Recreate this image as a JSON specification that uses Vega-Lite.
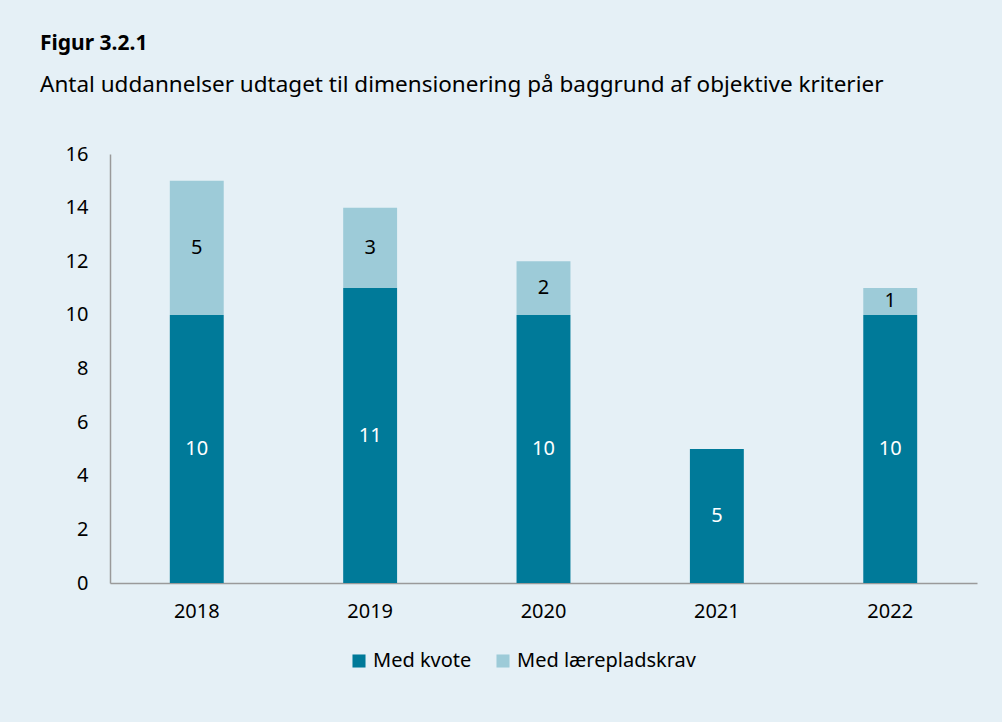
{
  "$schema": "https://vega.github.io/schema/vega-lite/v6.json",
  "width": 867,
  "height": 429,
  "autosize": {"type": "none"},
  "padding": {"left": 110, "top": 154, "right": 25, "bottom": 139},
  "background": "#E5F0F6",
  "config": {
    "font": "Noto Sans",
    "view": {"stroke": null}
  },
  "title": {
    "text": "Figur 3.2.1",
    "subtitle": "Antal uddannelser udtaget til dimensionering på baggrund af objektive kriterier",
    "anchor": "start",
    "frame": "group",
    "dx": -70,
    "offset": 48,
    "fontSize": 21,
    "fontWeight": "bold",
    "color": "#000000",
    "subtitleFontSize": 22.5,
    "subtitleColor": "#000000",
    "subtitlePadding": 20
  },
  "data": {
    "values": [
      {"year": "2018", "series": "Med kvote", "value": 10},
      {"year": "2018", "series": "Med lærepladskrav", "value": 5},
      {"year": "2019", "series": "Med kvote", "value": 11},
      {"year": "2019", "series": "Med lærepladskrav", "value": 3},
      {"year": "2020", "series": "Med kvote", "value": 10},
      {"year": "2020", "series": "Med lærepladskrav", "value": 2},
      {"year": "2021", "series": "Med kvote", "value": 5},
      {"year": "2022", "series": "Med kvote", "value": 10},
      {"year": "2022", "series": "Med lærepladskrav", "value": 1}
    ]
  },
  "transform": [
    {"stack": "value", "groupby": ["year"], "sort": [{"field": "series", "order": "ascending"}], "as": ["v0", "v1"]},
    {"calculate": "(datum.v0 + datum.v1) / 2", "as": "mid"}
  ],
  "encoding": {
    "x": {
      "field": "year",
      "type": "ordinal",
      "scale": {"paddingInner": 0.689, "paddingOuter": 0.345},
      "axis": {
        "title": null,
        "labelAngle": 0,
        "ticks": false,
        "domainColor": "#9A9A9A",
        "domainWidth": 1.5,
        "labelFontSize": 20,
        "labelColor": "#000000",
        "labelPadding": 18
      }
    }
  },
  "layer": [
    {
      "mark": {"type": "bar"},
      "encoding": {
        "y": {
          "field": "v1",
          "type": "quantitative",
          "scale": {"domain": [0, 16]},
          "axis": {
            "title": null,
            "values": [0, 2, 4, 6, 8, 10, 12, 14, 16],
            "grid": false,
            "ticks": false,
            "domainColor": "#9A9A9A",
            "domainWidth": 1.5,
            "labelFontSize": 20,
            "labelColor": "#000000",
            "labelPadding": 22
          }
        },
        "y2": {"field": "v0"},
        "color": {
          "field": "series",
          "type": "nominal",
          "scale": {"domain": ["Med kvote", "Med lærepladskrav"], "range": ["#007A99", "#9DCBD8"]},
          "legend": {
            "title": null,
            "orient": "none",
            "direction": "horizontal",
            "legendX": 239,
            "legendY": 497,
            "symbolType": "square",
            "symbolSize": 170,
            "symbolStrokeWidth": 0,
            "symbolOpacity": 1,
            "labelFontSize": 20,
            "labelLimit": 0,
            "labelColor": "#000000",
            "labelOffset": 4,
            "columnPadding": 21
          }
        }
      }
    },
    {
      "mark": {"type": "text", "fontSize": 20, "baseline": "middle", "align": "center"},
      "encoding": {
        "y": {"field": "mid", "type": "quantitative"},
        "text": {"field": "value", "type": "quantitative"},
        "color": {
          "condition": {"test": "datum.series === 'Med kvote'", "value": "#FFFFFF"},
          "value": "#000000"
        }
      }
    }
  ]
}
